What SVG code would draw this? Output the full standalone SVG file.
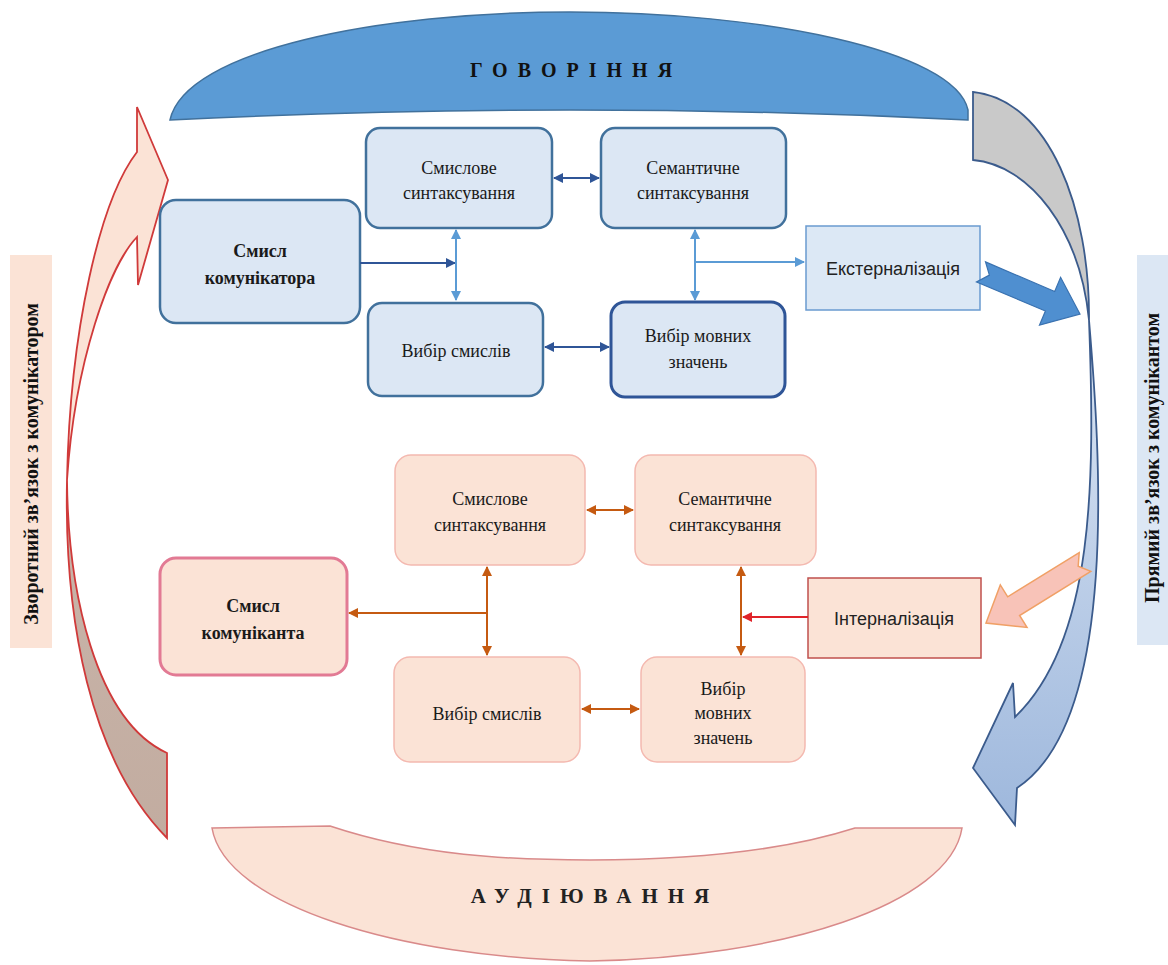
<svg xmlns="http://www.w3.org/2000/svg" width="1168" height="965" viewBox="0 0 1168 965">
<style>
.bt{fill:#dce7f4;stroke:#41719c;stroke-width:2.5}
.pt{fill:#fbe3d6;stroke:#f4b9b0;stroke-width:1.5}
.tx{font-family:"Liberation Serif","Times New Roman",serif;font-size:18px;fill:#1a1a1a;text-anchor:middle}
.b{font-weight:bold}
.sx{font-family:"Liberation Sans",Arial,sans-serif;font-size:18px;fill:#222;text-anchor:middle}
.db{stroke:#2f5597;stroke-width:2;fill:none}
.lb{stroke:#5b9bd5;stroke-width:2;fill:none}
.br{stroke:#c55a11;stroke-width:2;fill:none}
.rd{stroke:#e0242a;stroke-width:2;fill:none}
</style>
<defs>
<marker id="mdb" viewBox="0 0 10 10" refX="9" refY="5" markerWidth="5" markerHeight="5" orient="auto-start-reverse"><path d="M0,0L10,5L0,10z" fill="#2f5597"/></marker>
<marker id="mlb" viewBox="0 0 10 10" refX="9" refY="5" markerWidth="5" markerHeight="5" orient="auto-start-reverse"><path d="M0,0L10,5L0,10z" fill="#5b9bd5"/></marker>
<marker id="mbr" viewBox="0 0 10 10" refX="9" refY="5" markerWidth="5" markerHeight="5" orient="auto-start-reverse"><path d="M0,0L10,5L0,10z" fill="#c55a11"/></marker>
<marker id="mrd" viewBox="0 0 10 10" refX="9" refY="5" markerWidth="5" markerHeight="5" orient="auto-start-reverse"><path d="M0,0L10,5L0,10z" fill="#e0242a"/></marker>
<linearGradient id="gl" gradientUnits="userSpaceOnUse" x1="0" y1="90" x2="0" y2="845">
<stop offset="0" stop-color="#fbe3d6"/><stop offset="0.517" stop-color="#fbe3d6"/><stop offset="0.517" stop-color="#c9b5aa"/><stop offset="1" stop-color="#c2aca0"/>
</linearGradient>
<linearGradient id="gr" gradientUnits="userSpaceOnUse" x1="0" y1="90" x2="0" y2="830">
<stop offset="0" stop-color="#c9c9c9"/><stop offset="0.31" stop-color="#c9c9c9"/><stop offset="0.31" stop-color="#dce6f4"/><stop offset="1" stop-color="#9db7dc"/>
</linearGradient>
</defs>
<rect width="1168" height="965" fill="#ffffff"/>

<g id="banner-top">
<path d="M170,120 C185,50 380,12 570,12 C760,12 955,50 968,110 L968,120 Q570,100 170,120 Z" fill="#5b9bd5" stroke="#41719c" stroke-width="1.5"/>
<text x="576" y="77" font-family="'Liberation Serif','Times New Roman',serif" font-size="20" font-weight="bold" letter-spacing="10" text-anchor="middle" fill="#111">ГОВОРІННЯ</text>
</g>

<g id="banner-bottom">
<path d="M212,828 L330,826 C420,856 510,860 590,860 C680,860 780,852 855,828 L962,828 C950,905 780,958 590,961 C400,958 225,905 212,828 Z" fill="#fbe3d6" stroke="#d98a8a" stroke-width="1.5"/>
<text x="595" y="903" font-family="'Liberation Serif','Times New Roman',serif" font-size="21" font-weight="bold" letter-spacing="10" text-anchor="middle" fill="#222">АУДІЮВАННЯ</text>
</g>

<g id="arrow-left">
<path d="M137,152 L137,107 L168,180 L138,285 L137,237 C110,265 75,360 67,480 C68,590 95,720 167,753 L167,838 C90,760 64,620 67,480 C70,330 100,200 137,152 Z" fill="url(#gl)" stroke="#d03a3a" stroke-width="1.8" stroke-linejoin="miter"/>
</g>

<g id="arrow-right">
<path d="M973,92 C1050,100 1090,210 1089,320 C1095,480 1095,640 1015,717 L1013,683 L973,768 L1015,825 L1017,788 C1120,720 1100,450 1089,320 C1080,230 1030,165 973,160 Z" fill="url(#gr)" stroke="#3b5b8c" stroke-width="1.8"/>
</g>

<g id="label-left">
<rect x="10" y="255" width="42" height="393" fill="#fbe3d6"/>
<text transform="translate(38,464) rotate(-90)" font-family="'Liberation Serif','Times New Roman',serif" font-size="20" font-weight="bold" text-anchor="middle" fill="#111">Зворотний  зв’язок з комунікатором</text>
</g>

<g id="label-right">
<rect x="1137" y="255" width="31" height="390" fill="#dce7f4"/>
<text transform="translate(1159,458) rotate(-90)" font-family="'Liberation Serif','Times New Roman',serif" font-size="20" font-weight="bold" text-anchor="middle" fill="#111">Прямий зв’язок з комунікантом</text>
</g>

<g id="top-smysl">
<rect class="bt" x="160" y="200" width="200" height="123" rx="16"/>
<text class="tx b" x="260" y="257">Смисл</text><text class="tx b" x="260" y="284">комунікатора</text>
</g>
<g id="top-smyslove">
<rect class="bt" x="366" y="128" width="186" height="100" rx="14"/>
<text class="tx" x="459" y="174">Смислове</text><text class="tx" x="459" y="199">синтаксування</text>
</g>
<g id="top-semantychne">
<rect class="bt" x="601" y="128" width="185" height="100" rx="14"/>
<text class="tx" x="693" y="174">Семантичне</text><text class="tx" x="693" y="199">синтаксування</text>
</g>
<g id="top-vybir-smysliv">
<rect class="bt" x="368" y="303" width="175" height="93" rx="14"/>
<text class="tx" x="456" y="357">Вибір смислів</text>
</g>
<g id="top-vybir-movnykh">
<rect class="bt" x="611" y="302" width="174" height="95" rx="14" style="stroke:#2f5597;stroke-width:3"/>
<text class="tx" x="698" y="342">Вибір мовних</text><text class="tx" x="698" y="368">значень</text>
</g>
<g id="top-ekst">
<rect x="806" y="226" width="174" height="84" fill="#dce8f5" stroke="#6a9bd0" stroke-width="1.5"/>
<text class="sx" x="893" y="275">Екстерналізація</text>
</g>
<g id="block-arrow-ext">
<path d="M985.5,261.9 L1054.7,291.5 L1060.6,277.3 L1080,314 L1039.5,325.2 L1045.4,311 L976.5,282 L989.4,275.1 Z" fill="#4f8fd0" stroke="#3a72b0" stroke-width="1.2"/>
</g>

<g id="bot-smysl">
<rect class="pt" x="160" y="558" width="187" height="117" rx="16" style="stroke:#e27a94;stroke-width:3"/>
<text class="tx b" x="253" y="612">Смисл</text><text class="tx b" x="253" y="639">комуніканта</text>
</g>
<g id="bot-smyslove">
<rect class="pt" x="395" y="455" width="190" height="110" rx="16"/>
<text class="tx" x="490" y="505">Смислове</text><text class="tx" x="490" y="531">синтаксування</text>
</g>
<g id="bot-semantychne">
<rect class="pt" x="635" y="455" width="181" height="110" rx="16"/>
<text class="tx" x="725" y="505">Семантичне</text><text class="tx" x="725" y="531">синтаксування</text>
</g>
<g id="bot-vybir-smysliv">
<rect class="pt" x="394" y="657" width="186" height="105" rx="16"/>
<text class="tx" x="487" y="720">Вибір смислів</text>
</g>
<g id="bot-vybir-movnykh">
<rect class="pt" x="641" y="657" width="164" height="105" rx="16"/>
<text class="tx" x="723" y="695">Вибір</text><text class="tx" x="723" y="719">мовних</text><text class="tx" x="723" y="744">значень</text>
</g>
<g id="bot-int">
<rect x="808" y="578" width="173" height="80" fill="#fbe3d6" stroke="#c0504d" stroke-width="1.5"/>
<text class="sx" x="894" y="625">Інтерналізація</text>
</g>
<g id="block-arrow-int">
<path d="M1079.2,552.7 L1007.7,596.8 L1000.3,584.9 L986,623 L1027,627.4 L1019.6,615.5 L1090.8,571.4 L1078.2,566.2 Z" fill="#f8c3b8" stroke="#f0a066" stroke-width="1.5"/>
</g>

<g id="connectors">
<line class="db" x1="360" y1="263" x2="455" y2="263" marker-end="url(#mdb)"/>
<line class="lb" x1="456" y1="230" x2="456" y2="300" marker-start="url(#mlb)" marker-end="url(#mlb)"/>
<line class="db" x1="554" y1="178" x2="599" y2="178" marker-start="url(#mdb)" marker-end="url(#mdb)"/>
<line class="lb" x1="695" y1="230" x2="695" y2="300" marker-start="url(#mlb)" marker-end="url(#mlb)"/>
<line class="lb" x1="695" y1="262" x2="804" y2="262" marker-end="url(#mlb)"/>
<line class="db" x1="545" y1="347" x2="609" y2="347" marker-start="url(#mdb)" marker-end="url(#mdb)"/>

<line class="br" x1="587" y1="510" x2="633" y2="510" marker-start="url(#mbr)" marker-end="url(#mbr)"/>
<line class="br" x1="487" y1="567" x2="487" y2="655" marker-start="url(#mbr)" marker-end="url(#mbr)"/>
<line class="br" x1="487" y1="613" x2="349" y2="613" marker-end="url(#mbr)"/>
<line class="br" x1="741" y1="567" x2="741" y2="655" marker-start="url(#mbr)" marker-end="url(#mbr)"/>
<line class="rd" x1="808" y1="617" x2="743" y2="617" marker-end="url(#mrd)"/>
<line class="br" x1="582" y1="709" x2="639" y2="709" marker-start="url(#mbr)" marker-end="url(#mbr)"/>
</g>
</svg>
